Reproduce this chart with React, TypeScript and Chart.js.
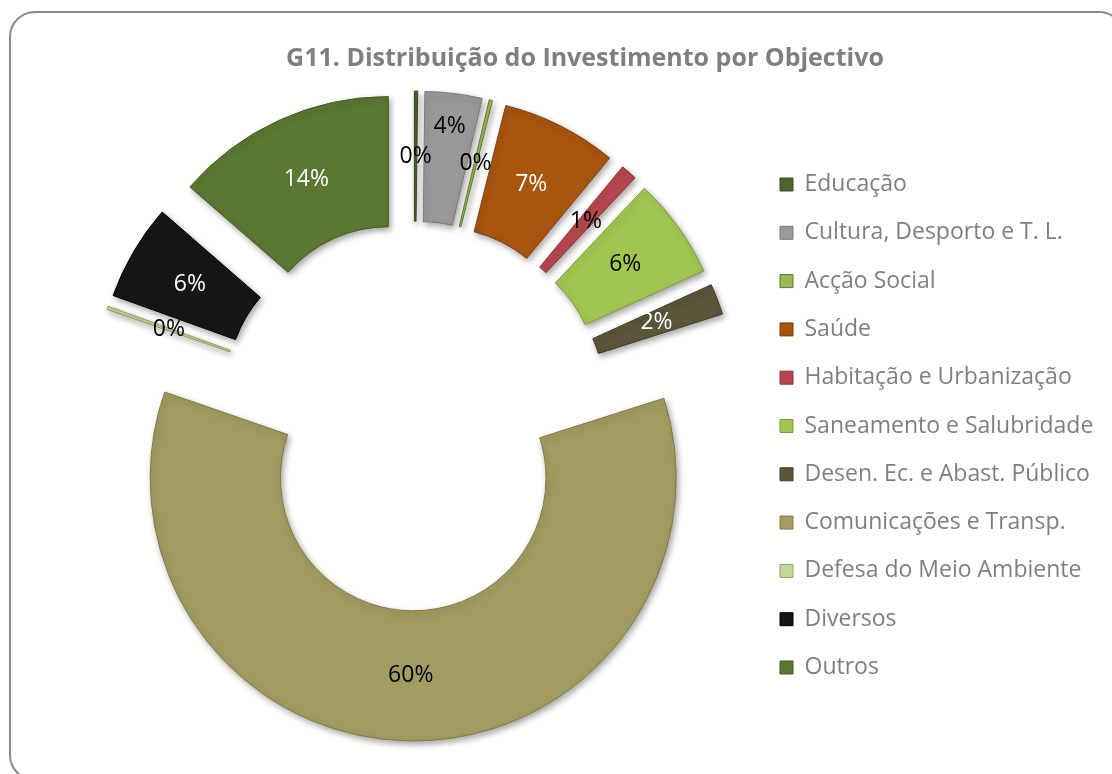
import React, { useEffect, useRef } from 'react';
import { Chart, registerables } from 'chart.js';

Chart.register(...registerables);

// ---------- data ----------
const chartTitle = 'G11. Distribuição do Investimento por Objectivo';
const categories = [
  'Educação',
  'Cultura, Desporto e T. L.',
  'Acção Social',
  'Saúde',
  'Habitação e Urbanização',
  'Saneamento e Salubridade',
  'Desen. Ec. e Abast. Público',
  'Comunicações e Transp.',
  'Defesa do Meio Ambiente',
  'Diversos',
  'Outros',
];
const shares = [0.2, 3.5, 0.2, 7.1, 1.0, 6.2, 1.9, 60.2, 0.2, 5.9, 13.6];

// ---------- styles ----------
const sliceColors = ['#4f6228', '#999999', '#9bbb59', '#a8550f', '#b5474c', '#a0c650', '#5a5638', '#a29c60', '#c3d69b', '#161616', '#5a7831'];
const sliceEdges = ['#3b4a1e', '#7a7a7a', '#5f7a2a', '#7f3f0a', '#8c3337', '#7d9c3a', '#3f3c27', '#7f7a47', '#8aa35f', '#000000', '#435a24'];
const labelColors = ['#000', '#000', '#000', '#fff', '#000', '#000', '#fff', '#000', '#000', '#fff', '#fff'];

const FONT = "'Open Sans', 'DejaVu Sans', sans-serif";
const CANVAS_W = 1140;
const CANVAS_H = 774;
const EXPLODE = 62;
const LABEL_SIZE = 23;
const LEGEND_SIZE = 23;
const LEGEND_PAD = 25.3;
const LEGEND_BOX = 13;

const explodePlugin = {
  id: 'explodeAndLabels',
  afterDatasetUpdate(_chart: any, args: any) {
    args.meta.data.forEach((arc: any) => {
      const mid = (arc.startAngle + arc.endAngle) / 2;
      arc.x += Math.cos(mid) * EXPLODE;
      arc.y += Math.sin(mid) * EXPLODE;
    });
  },
  beforeDatasetsDraw(chart: any) {
    const ctx = chart.ctx;
    ctx.save();
    ctx.shadowColor = 'rgba(0,0,0,0.35)';
    ctx.shadowBlur = 6;
    ctx.shadowOffsetX = 2;
    ctx.shadowOffsetY = 3;
  },
  afterDatasetsDraw(chart: any) {
    const ctx = chart.ctx;
    ctx.restore();
    const meta = chart.getDatasetMeta(0);
    const values = chart.data.datasets[0].data as number[];
    ctx.save();
    ctx.font = `${LABEL_SIZE}px ${FONT}`;
    ctx.textAlign = 'center';
    ctx.textBaseline = 'middle';
    const placed: { x: number; y: number; w: number; h: number }[] = [];
    meta.data.forEach((arc: any, i: number) => {
      const text = `${Math.round(values[i])}%`;
      const mid = (arc.startAngle + arc.endAngle) / 2;
      const w = ctx.measureText(text).width + 8;
      const h = LABEL_SIZE + 6;
      let rr = (arc.innerRadius + arc.outerRadius) / 2;
      let x = 0, y = 0;
      for (let k = 0; k < 80; k++) {
        x = arc.x + Math.cos(mid) * rr;
        y = arc.y + Math.sin(mid) * rr;
        const hit = placed.some(p => Math.abs(p.x - x) < (p.w + w) / 2 && Math.abs(p.y - y) < (p.h + h) / 2);
        if (!hit) break;
        rr += 2;
      }
      placed.push({ x, y, w, h });
      ctx.fillStyle = labelColors[i];
      ctx.fillText(text, x, y);
    });
    ctx.restore();
  },
};

export default function App() {
  const ref = useRef<HTMLCanvasElement | null>(null);

  useEffect(() => {
    if (!ref.current) return;
    // measure widest legend label so the legend box keeps a fixed left edge
    const mctx = document.createElement('canvas').getContext('2d')!;
    mctx.font = `${LEGEND_SIZE}px ${FONT}`;
    const textW = Math.max(...categories.map(c => mctx.measureText(c).width));
    const natural = LEGEND_PAD + LEGEND_BOX + LEGEND_SIZE / 2 + textW + 10;
    const legendLeft = 754.7;
    const legendWidth = Math.floor(natural) - 6;
    const chart = new Chart(ref.current, {
      type: 'doughnut',
      data: {
        labels: categories,
        datasets: [
          {
            data: shares,
            backgroundColor: sliceColors,
            borderColor: sliceEdges,
            borderWidth: 1,
            hoverOffset: 0,
            offset: 0,
            clip: false,
          } as any,
        ],
      },
      options: {
        responsive: false,
        animation: false,
        devicePixelRatio: 1,
        events: [],
        radius: 263,
        cutout: '50.5%',
        layout: {
          padding: { left: 73.3, right: CANVAS_W - legendLeft - legendWidth, top: 0, bottom: 69.7 },
        },
        plugins: {
          title: {
            display: true,
            text: chartTitle,
            color: '#7f7f7f',
            font: { family: FONT, size: 25, weight: 'bold' },
            padding: { top: 44, bottom: 53.7 },
          },
          legend: {
            display: true,
            position: 'right',
            align: 'end',
            maxWidth: legendWidth,
            labels: {
              boxWidth: LEGEND_BOX,
              boxHeight: LEGEND_BOX,
              padding: LEGEND_PAD,
              color: '#7f7f7f',
              font: { family: FONT, size: LEGEND_SIZE },
            },
          },
          tooltip: { enabled: false },
        },
      } as any,
      plugins: [explodePlugin],
    });
    return () => chart.destroy();
  }, []);

  return (
    <div style={{ position: 'fixed', left: 0, top: 0, width: 1112, height: 774, overflow: 'hidden', background: '#fff' }}>
      <div
        style={{
          position: 'absolute',
          left: 9,
          top: 11,
          width: 1112,
          height: 766,
          border: '2px solid #8c8c8c',
          borderRadius: 26,
          boxSizing: 'content-box',
        }}
      />
      <canvas
        ref={ref}
        width={CANVAS_W}
        height={CANVAS_H}
        style={{ position: 'absolute', left: 0, top: 0, width: CANVAS_W, height: CANVAS_H, display: 'block' }}
      />
    </div>
  );
}
